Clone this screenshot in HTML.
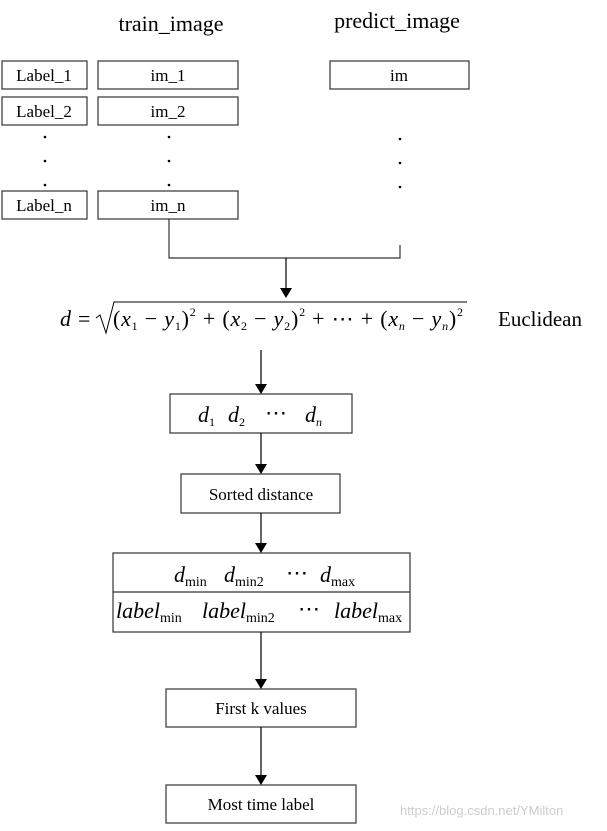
<!DOCTYPE html>
<html><head><style>
body{margin:0;background:#fff;width:607px;height:826px;overflow:hidden}
svg{font-family:"Liberation Serif",serif}
</style></head><body>
<svg width="607" height="826" viewBox="0 0 607 826" xmlns="http://www.w3.org/2000/svg">
<defs><marker id="a" markerWidth="10" markerHeight="12" refX="9" refY="6" orient="auto" markerUnits="userSpaceOnUse"><path d="M0,0 L10,6 L0,12 z" fill="#000"/></marker></defs>
<g fill="none" stroke="#333" stroke-width="1.2">
<rect x="2" y="61" width="85" height="28"/><rect x="98" y="61" width="140" height="28"/><rect x="330" y="61" width="139" height="28"/>
<rect x="2" y="97" width="85" height="28"/><rect x="98" y="97" width="140" height="28"/>
<rect x="2" y="191" width="85" height="28"/><rect x="98" y="191" width="140" height="28"/>
<path d="M169,219 V258 H400 V245"/>
<rect x="170" y="394" width="182" height="39"/>
<rect x="181" y="474" width="159" height="39"/>
<rect x="113" y="553" width="297" height="79"/><path d="M113,592 H410"/>
<rect x="166" y="689" width="190" height="38"/>
<rect x="166" y="785" width="190" height="38"/>
</g>
<g stroke="#000" stroke-width="1.2" marker-end="url(#a)">
<line x1="286" y1="258" x2="286" y2="297"/>
<line x1="261" y1="350" x2="261" y2="393"/>
<line x1="261" y1="433" x2="261" y2="473"/>
<line x1="261" y1="513" x2="261" y2="552"/>
<line x1="261" y1="632" x2="261" y2="688"/>
<line x1="261" y1="727" x2="261" y2="784"/>
</g>
<g font-size="22" text-anchor="middle">
<text x="171" y="31">train_image</text><text x="397" y="28">predict_image</text>
</g>
<g font-size="17" text-anchor="middle">
<text x="44" y="81">Label_1</text><text x="168" y="81">im_1</text><text x="399" y="81">im</text>
<text x="44" y="117">Label_2</text><text x="168" y="117">im_2</text>
<text x="44" y="211">Label_n</text><text x="168" y="211">im_n</text>
<text x="261" y="500">Sorted distance</text>
<text x="261" y="714">First k values</text>
<text x="261" y="810">Most time label</text>
</g>
<g fill="#000">
<circle cx="45" cy="137" r="1.3"/><circle cx="45" cy="161" r="1.3"/><circle cx="45" cy="185" r="1.3"/>
<circle cx="169" cy="137" r="1.3"/><circle cx="169" cy="161" r="1.3"/><circle cx="169" cy="185" r="1.3"/>
<circle cx="400" cy="139" r="1.3"/><circle cx="400" cy="163" r="1.3"/><circle cx="400" cy="187" r="1.3"/>
</g>
<g font-size="22">
<text x="60" y="326" font-style="italic">d</text><text x="78" y="326">=</text>
<path d="M96,318 l4,-3 l6,18 l8,-31 H467" stroke="#000" fill="none" stroke-width="1"/>
<text x="113" y="326" textLength="350" lengthAdjust="spacing">(<tspan font-style="italic">x</tspan><tspan font-size="12" dy="4">1</tspan><tspan dy="-4"> − </tspan><tspan font-style="italic">y</tspan><tspan font-size="12" dy="4">1</tspan><tspan dy="-4">)</tspan><tspan font-size="12" dy="-10">2</tspan><tspan dy="10"> + (</tspan><tspan font-style="italic">x</tspan><tspan font-size="12" dy="4">2</tspan><tspan dy="-4"> − </tspan><tspan font-style="italic">y</tspan><tspan font-size="12" dy="4">2</tspan><tspan dy="-4">)</tspan><tspan font-size="12" dy="-10">2</tspan><tspan dy="10"> + ⋯ + (</tspan><tspan font-style="italic">x</tspan><tspan font-size="12" dy="4" font-style="italic">n</tspan><tspan dy="-4"> − </tspan><tspan font-style="italic">y</tspan><tspan font-size="12" dy="4" font-style="italic">n</tspan><tspan dy="-4">)</tspan><tspan font-size="12" dy="-10">2</tspan></text>
<text x="498" y="326" font-size="21">Euclidean</text>
</g>
<g font-size="22">
<text x="198" y="422"><tspan font-style="italic">d</tspan><tspan font-size="12" dy="4">1</tspan></text>
<text x="228" y="422"><tspan font-style="italic">d</tspan><tspan font-size="12" dy="4">2</tspan></text>
<text x="265" y="420">⋯</text>
<text x="305" y="422"><tspan font-style="italic">d</tspan><tspan font-size="12" dy="4" font-style="italic">n</tspan></text>
<text x="174" y="582"><tspan font-style="italic">d</tspan><tspan font-size="14" dy="4">min</tspan></text>
<text x="224" y="582"><tspan font-style="italic">d</tspan><tspan font-size="14" dy="4">min2</tspan></text>
<text x="286" y="580">⋯</text>
<text x="320" y="582"><tspan font-style="italic">d</tspan><tspan font-size="14" dy="4">max</tspan></text>
<text x="116" y="618"><tspan font-style="italic">label</tspan><tspan font-size="14" dy="4">min</tspan></text>
<text x="202" y="618"><tspan font-style="italic">label</tspan><tspan font-size="14" dy="4">min2</tspan></text>
<text x="298" y="616">⋯</text>
<text x="334" y="618"><tspan font-style="italic">label</tspan><tspan font-size="14" dy="4">max</tspan></text>
</g>
<text x="400" y="815" font-family="Liberation Sans,sans-serif" font-size="13" fill="#ccc">https://blog.csdn.net/YMilton</text>
</svg>
</body></html>
